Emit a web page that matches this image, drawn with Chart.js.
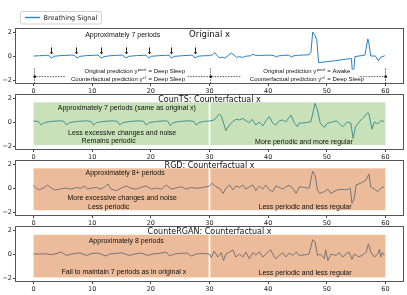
<!DOCTYPE html>
<html lang="en">
<head>
<meta charset="UTF-8" />
<title>Original x and counterfactuals</title>
<script src="https://cdn.jsdelivr.net/npm/chart.js"></script>
<style>
  html, body { margin: 0; padding: 0; background: #fff; }
  .fig { position: relative; width: 407px; height: 295px; overflow: hidden; }
  .fig canvas { position: absolute; left: 0; }
</style>
</head>
<body>
<div class="fig">
  <canvas id="c0" width="407" height="95" style="top:0px"></canvas>
  <canvas id="c1" width="407" height="76" style="top:85px"></canvas>
  <canvas id="c2" width="407" height="76" style="top:151px"></canvas>
  <canvas id="c3" width="407" height="76" style="top:217px"></canvas>
</div>
<script>
const xTicks = [0, 10, 20, 30, 40, 50, 60];
const yTicks = [-2, 0, 2];

// original breathing signal
const origX = [0,1,2,2.6,3,3.5,4.5,5.5,6.5,7,7.4,7.9,9,10,11,11.5,12,13,14,15.2,15.7,16.2,17.5,18.5,19.2,19.6,20.1,21.5,22.5,23.1,23.5,24,25.5,26.5,27.1,27.5,28,29,30,30.5,30.9,31.3,31.7,32.2,32.6,33.2,33.7,34.2,34.6,35.1,35.6,36.2,37,37.4,37.8,38.5,39.5,40.5,41,41.3,41.7,42.5,43.5,44,44.4,45,46,47,47.3,47.6,48,48.3,48.6,49.5,51,52.5,54,54.2,54.4,54.6,54.8,55.5,56.5,57,57.2,57.5,58.3,58.8,59.2,59.9];
const origY = [0,0.02,0.05,0.06,-0.18,-0.02,0.03,0.05,0.08,0.05,-0.18,-0.03,0.03,0.05,0.08,-0.18,-0.05,0.02,0.05,0.08,-0.17,-0.03,0.03,0.05,0.07,-0.16,-0.02,0.03,0.05,0.07,-0.17,-0.03,0.03,0.05,0.08,-0.17,-0.02,0.02,0.03,0.1,0.28,0.05,-0.15,-0.1,-0.18,0.05,0.25,0.08,-0.12,-0.05,-0.12,-0.02,0.02,0.15,0.05,0.05,0.06,0.07,0.03,-0.1,0,0.05,0.07,-0.08,0.02,0.05,0.08,0.1,0.3,2.0,1.7,1.35,-0.55,-0.5,-0.42,-0.32,-0.22,-0.2,-1.55,-1.2,-0.05,0,0.08,1.42,1.0,0,0,-0.4,-0.1,0.02];

// CounTS counterfactual
const countsX = [0,0.8,1.3,1.8,3,4.5,5.2,5.6,6.1,7.5,9,9.8,10.2,10.7,12,13.5,14.3,14.7,15.2,16.5,18,18.8,19.2,19.7,21,22.5,22.9,23.3,23.8,25,26.5,27.3,27.7,28.2,29,30,30.8,31.7,32,32.5,32.8,33.4,34,34.5,35.1,35.7,36.2,36.8,37.3,37.9,38.5,39.1,39.6,40.2,40.8,41.3,41.9,42.5,43,43.9,44.5,45,45.3,46.5,47.3,48,48.4,48.9,49.6,50.1,51,51.6,52.1,52.7,53.5,54.1,54.5,54.9,55.5,56.1,57,57.2,57.7,58.1,58.7,59.2,59.8];
const countsY = [0.08,0.05,-0.25,-0.05,0.05,0.1,0.05,-0.25,-0.05,0.05,0.1,0.05,-0.27,-0.05,0.05,0.1,0.05,-0.25,-0.05,0.05,0.1,0.05,-0.25,-0.05,0.05,0.1,0.05,-0.3,-0.05,0.05,0.1,0.05,-0.25,-0.05,0.05,0.08,0.17,0.67,0.5,-0.25,-0.72,-0.25,0.05,0.22,0.17,0.3,0.1,-0.05,0.22,-0.25,0,-0.33,0.1,0.45,-0.1,-0.25,0.1,0.17,0,0.58,-0.1,-0.39,-0.1,-0.05,0.03,1.55,1.0,-0.1,-0.45,-0.1,0,0.1,-0.1,-0.4,0,-0.1,-1.37,-0.4,0,0.3,0.78,0.65,-0.6,0,-0.15,0.1,0.05];

// RGD counterfactual
const rgdX = [0,0.5,1,1.9,2.4,3,3.6,4.4,5.6,6.4,7.3,8.1,8.7,9.2,9.8,10.7,11.5,12.1,12.7,13.2,14.1,14.9,15.8,16.6,17.5,18.3,19.2,20.1,20.9,21.8,22.6,23.5,24.3,25.2,26,26.9,27.7,28.8,30,30.5,31.1,31.7,32.3,32.8,33.4,34,34.5,35.1,35.7,36.2,36.8,37.4,37.9,38.5,39.1,39.6,40.2,40.8,41.3,41.9,42.5,43,43.6,44.2,44.8,45.3,46.2,47,47.6,48,48.4,48.8,49.6,50.2,50.7,51.6,52.4,53.3,54,54.3,54.7,55,55.8,56.7,57.2,57.5,58.1,58.7,59.2,59.8];
const rgdY = [0.25,-0.05,-0.15,0.05,0.25,0,-0.17,-0.1,0,-0.1,0.05,-0.02,0.17,-0.1,-0.02,0.05,-0.1,0.1,0.33,-0.1,-0.22,-0.02,0.17,-0.02,-0.1,0.05,0.17,-0.1,0,-0.1,0.25,-0.1,0,0.1,-0.1,0.05,-0.02,0.03,0.17,0.4,0.1,-0.02,-0.45,-0.02,0.25,-0.15,0.17,0.05,0.25,-0.1,0.1,0.25,-0.22,0.17,-0.1,0.25,-0.15,-0.3,0.17,0.05,-0.1,0.1,0.22,-0.02,-0.45,0.1,0.05,-0.02,1.4,1.1,-0.15,-0.45,-0.3,-0.1,-0.45,-0.2,-0.1,-0.15,-0.02,-1.28,-0.86,0.25,0.4,0.67,1.17,0.1,-0.1,-0.3,-0.02,0.1];

// CounteRGAN counterfactual
const cganX = [0,1,2,3,4,4.7,5.6,6.5,7.9,9,9.8,10.7,11.5,12.3,13,14,15,16.4,17.2,18.3,19.5,20.3,21.5,22.6,23.2,24,25,26.2,26.9,27.7,28.8,29.5,30,30.3,30.8,31.4,32,32.4,32.8,33.4,34,34.5,35.1,35.7,36.2,36.8,37.4,37.9,38.5,39.1,40,40.4,40.8,41.3,41.9,42.5,43,43.6,44.2,44.8,45.3,46.2,47,47.6,48,48.4,48.9,49.6,49.8,50.2,50.7,51.6,52.1,52.7,53.3,53.8,54.3,54.7,55.5,56.1,56.7,57.1,57.5,58.1,58.7,59,59.2,59.5,59.8];
const cganY = [0,0,0.02,-0.05,0.05,0.17,-0.12,0,0.1,-0.12,0.02,0.08,0,-0.17,0,0.05,0.1,-0.12,0,0.08,-0.12,0,0.05,0.17,-0.17,0,0.05,0.08,-0.17,0,0.05,0.02,0,-0.3,0.25,-0.25,0.12,-0.55,0,0.17,0.35,-0.25,0,-0.25,0.17,-0.4,0.12,-0.08,0.17,-0.25,0.17,0.35,0,-0.4,-0.12,0.12,-0.25,0.08,-0.12,0.17,-0.12,-0.08,0,1.2,1.0,-0.12,0,-0.4,0.35,-0.55,0,-0.12,0.12,-0.25,0,0.17,-0.45,0,-0.25,-0.08,0.12,0.85,0.17,-0.25,0,0.4,-0.25,0.12,-0.12];

const arrowX = [3.0, 7.3, 11.5, 15.7, 19.6, 23.5, 27.5];

const LINE = '#2a7fc0';
const TICK_FONT = { family: '"DejaVu Sans", sans-serif', size: 6.5 };
const NOTE_FONT = '7px "Liberation Sans", Arial, sans-serif';
const TITLE_FONT = '8px "DejaVu Sans", sans-serif';

function drawPred(ctx, xEq, yPix, pre, sup, post) {
  ctx.font = '6px "Liberation Sans", Arial, sans-serif';
  ctx.textBaseline = 'middle';
  ctx.textAlign = 'left';
  ctx.fillText(post, xEq, yPix);
  ctx.font = '4px "Liberation Sans", Arial, sans-serif';
  const supW = ctx.measureText(sup).width;
  ctx.font = '6px "Liberation Sans", Arial, sans-serif';
  const preW = ctx.measureText(pre).width;
  const start = xEq - 3 - supW - preW;
  ctx.fillText(pre, start, yPix);
  ctx.font = '4px "Liberation Sans", Arial, sans-serif';
  ctx.fillText(sup, start + preW + 0.3, yPix - 2);
}

const decoPlugin = {
  id: 'deco',
  afterDatasetsDraw(chart, args, o) {
    const { ctx, chartArea: a, scales: { x, y } } = chart;
    const px = v => x.getPixelForValue(v);
    const py = v => y.getPixelForValue(v);
    ctx.save();

    // translucent bands go over the line, as in the original
    if (o.shade) {
      ctx.fillStyle = o.shade;
      o.spans.forEach(s => {
        ctx.fillRect(px(s[0]), py(o.band[1]), px(s[1]) - px(s[0]), py(o.band[0]) - py(o.band[1]));
      });
    }

    if (o.arrows) {
      ctx.strokeStyle = '#111';
      ctx.fillStyle = '#111';
      ctx.lineWidth = 0.9;
      o.arrows.forEach(v => {
        const xp = Math.round(px(v)) + 0.5;
        ctx.beginPath();
        ctx.moveTo(xp, py(0.72));
        ctx.lineTo(xp, py(0.3));
        ctx.stroke();
        ctx.beginPath();
        ctx.moveTo(xp - 1.8, py(0.32));
        ctx.lineTo(xp + 1.8, py(0.32));
        ctx.lineTo(xp, py(0.14));
        ctx.closePath();
        ctx.fill();
      });
    }

    if (o.pred) {
      const yl = py(-1.72);
      ctx.strokeStyle = '#333';
      ctx.lineWidth = 0.8;
      ctx.setLineDash([1.5, 1.2]);
      ctx.beginPath();
      ctx.moveTo(px(0), yl); ctx.lineTo(px(60), yl);
      [0, 30, 60].forEach(v => {
        const xp = Math.round(px(v)) + 0.5;
        ctx.moveTo(xp, py(-1.05)); ctx.lineTo(xp, a.bottom);
      });
      ctx.stroke();
      ctx.setLineDash([]);
      ctx.fillStyle = '#111';
      [0, 30, 60].forEach(v => ctx.fillRect(Math.round(px(v)) - 0.5, yl - 1, 2.5, 2));
      o.pred.forEach(p => {
        ctx.fillStyle = '#fff';
        ctx.fillRect(px(p.from), py(-1.15), px(p.to) - px(p.from), py(-2.2) - py(-1.15));
        ctx.fillStyle = '#111';
        drawPred(ctx, px(p.eq), py(-1.31), 'Original prediction y', 'pred', '= ' + p.orig);
        drawPred(ctx, px(p.eq), py(-1.96), 'Counterfactual prediction y', 'cf', '= ' + p.cf);
      });
    }

    ctx.fillStyle = '#111';
    ctx.font = NOTE_FONT;
    ctx.textAlign = 'center';
    ctx.textBaseline = 'middle';
    (o.notes || []).forEach(n => ctx.fillText(n[0], px(n[1]), py(n[2])));

    ctx.strokeStyle = '#555';
    ctx.lineWidth = 1;
    ctx.strokeRect(Math.round(a.left) - 0.5, Math.round(a.top) - 0.5, Math.round(a.width) + 1, Math.round(a.height) + 1);

    ctx.fillStyle = '#111';
    ctx.font = o.titleFont || TITLE_FONT;
    ctx.textAlign = 'center';
    ctx.fillText(o.title, (a.left + a.right) / 2, a.top + o.titleDy);

    if (o.legend) {
      ctx.fillStyle = '#fff';
      ctx.strokeStyle = '#d0d0d0';
      ctx.beginPath();
      ctx.roundRect(20.5, 11.5, 81, 12.5, 2);
      ctx.fill();
      ctx.stroke();
      ctx.strokeStyle = LINE;
      ctx.lineWidth = 1.3;
      ctx.beginPath();
      ctx.moveTo(25, 17.5); ctx.lineTo(40, 17.5);
      ctx.stroke();
      ctx.fillStyle = '#222';
      ctx.font = '6.5px "DejaVu Sans", sans-serif';
      ctx.textAlign = 'left';
      ctx.fillText('Breathing Signal', 43.5, 18);
    }
    ctx.restore();
  }
};

function makeChart(id, xs, ys, padTop, deco) {
  return new Chart(document.getElementById(id), {
    type: 'line',
    data: {
      datasets: [{
        data: xs.map((v, i) => ({ x: v, y: ys[i] })),
        borderColor: LINE,
        borderWidth: 1,
        pointRadius: 0,
        tension: 0
      }]
    },
    options: {
      animation: false,
      responsive: false,
      devicePixelRatio: 1,
      layout: { padding: { top: padTop, right: 4, left: 0, bottom: 0 } },
      plugins: { legend: { display: false }, tooltip: { enabled: false }, deco },
      scales: {
        x: {
          type: 'linear', min: -3, max: 63,
          afterBuildTicks: s => { s.ticks = xTicks.map(v => ({ value: v })); },
          afterFit: s => { s.height = 12; },
          ticks: { font: TICK_FONT, color: '#222', padding: 1, maxRotation: 0, autoSkip: false },
          grid: { drawOnChartArea: false, tickLength: 3, color: '#444' },
          border: { display: false }
        },
        y: {
          min: -2.25, max: 2.25,
          afterBuildTicks: s => { s.ticks = yTicks.map(v => ({ value: v })); },
          afterFit: s => { s.width = 16; },
          ticks: { font: TICK_FONT, color: '#222', padding: 1, callback: v => String(v).replace('-', '\u2212') },
          grid: { drawOnChartArea: false, tickLength: 3, color: '#444' },
          border: { display: false }
        }
      }
    },
    plugins: [decoPlugin]
  });
}

const spans = [[0, 29.85], [30.15, 60]];
const GREEN = 'rgba(110,175,70,0.38)';
const ORANGE = 'rgba(210,105,30,0.45)';

makeChart('c0', origX, origY, 29, {
  title: 'Original x', titleDy: 6, titleFont: '8.5px "DejaVu Sans", sans-serif',
  legend: true,
  arrows: arrowX,
  notes: [['Approximately 7 periods', 15.2, 1.75]],
  pred: [
    { from: 5.4, to: 26.2, eq: 19.6, orig: 'Deep Sleep', cf: 'Deep Sleep' },
    { from: 35.4, to: 55.4, eq: 50.1, orig: 'Awake', cf: 'Deep Sleep' }
  ]
});

makeChart('c1', countsX, countsY, 10, {
  title: 'CounTS: Counterfactual x', titleDy: 4.5,
  shade: GREEN, spans, band: [-1.92, 1.64],
  notes: [
    ['Approximately 7 periods (same as original x)', 15.9, 1.14],
    ['Less excessive changes and noise', 15.1, -0.95],
    ['Remains periodic', 12.8, -1.63],
    ['More periodic and more regular', 46.1, -1.64]
  ]
});

makeChart('c2', rgdX, rgdY, 10, {
  title: 'RGD: Counterfactual x', titleDy: 4.5,
  shade: ORANGE, spans, band: [-1.85, 1.64],
  notes: [
    ['Approximately 8+ periods', 15.6, 1.22],
    ['More excessive changes and noise', 15.1, -0.86],
    ['Less periodic', 12.8, -1.55],
    ['Less periodic and less regular', 46.3, -1.55]
  ]
});

makeChart('c3', cganX, cganY, 10, {
  title: 'CounteRGAN: Counterfactual x', titleDy: 4.5,
  shade: ORANGE, spans, band: [-1.95, 1.6],
  notes: [
    ['Approximately 8 periods', 15.8, 1.1],
    ['Fail to maintain 7 periods as in original x', 15.4, -1.53],
    ['Less periodic and less regular', 46.3, -1.58]
  ]
});
</script>
</body>
</html>
